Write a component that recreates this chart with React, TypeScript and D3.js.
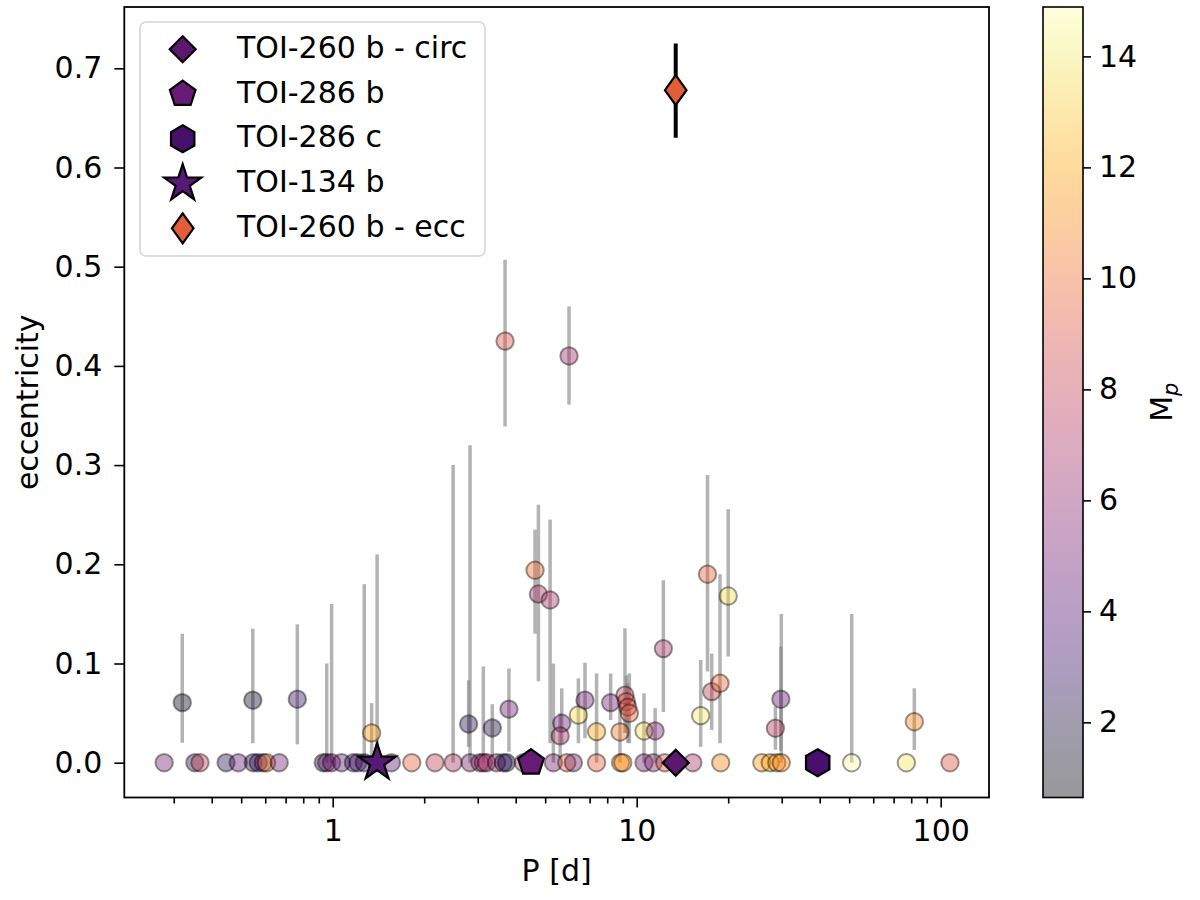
import { useEffect, useRef } from "react"
import * as d3 from "d3"

// Known planets: orbital period [d], eccentricity, error bar ends, planet mass
const periods = [
  0.279, 0.352, 0.366, 0.446, 0.489, 0.548, 0.569, 0.591, 0.606, 0.667,
  0.931, 0.956, 0.992, 1.07, 1.17, 1.21, 1.27, 1.4, 1.56, 1.82,
  2.17, 2.49, 2.83, 3.05, 3.13, 3.21, 3.46, 3.64, 3.73, 4.24,
  5.32, 5.89, 6.19, 7.38, 8.85, 9.0, 10.57, 11.35, 12.37, 15.3,
  18.9, 25.8, 27.5, 28.9, 29.9, 50.97, 77.1, 107.3,
  0.32, 0.546, 0.765, 1.343, 2.8, 3.35, 3.8, 3.69, 5.99, 4.63,
  4.75, 5.19, 12.24, 17.1, 20.0, 17.65, 18.8, 16.24, 29.8, 28.6,
  81.9, 5.67, 5.6, 6.43, 6.76, 7.38, 8.21, 8.81, 9.15, 9.25,
  9.35, 9.46, 10.57, 11.5,
]
const eccs = [
  0, 0, 0, 0, 0, 0, 0, 0, 0, 0,
  0, 0, 0, 0, 0, 0, 0, 0, 0, 0,
  0, 0, 0, 0, 0, 0, 0, 0, 0, 0,
  0, 0, 0, 0, 0, 0, 0, 0, 0, 0,
  0, 0, 0, 0, 0, 0, 0, 0,
  0.0605, 0.063, 0.064, 0.03, 0.039, 0.035, 0.054, 0.425, 0.41, 0.194,
  0.17, 0.164, 0.115, 0.19, 0.168, 0.0716, 0.08, 0.0474, 0.064, 0.0347,
  0.0413, 0.0397, 0.027, 0.048, 0.063, 0.0313, 0.0605, 0.031, 0.068, 0.0615,
  0.056, 0.0498, 0.032, 0.032,
]
const eccLow = [
  0, 0, 0, 0, 0, 0, 0, 0, 0, 0,
  0, 0, 0, 0, 0, 0, 0, 0, 0, 0,
  0, 0, 0, 0, 0, 0, 0, 0, 0, 0,
  0, 0, 0, 0, 0, 0, 0, 0, 0, 0,
  0, 0, 0, 0, 0, 0, 0, 0,
  0.02, 0.0196, 0.0185, 0, 0.016, 0.006, 0.011, 0.339, 0.361, 0.13,
  0.082, 0.0196, 0.051, 0.092, 0.107, 0.033, 0.0196, 0.016, 0.012, 0.013,
  0.0128, 0.0196, 0.005, 0.0196, 0.0246, 0, 0.043, 0, 0.03, 0.03,
  0.02, 0.0196, 0, 0,
]
const eccHigh = [
  0, 0, 0, 0, 0, 0, 0, 0, 0, 0,
  0, 0.1, 0.16, 0, 0, 0, 0.18, 0.21, 0, 0,
  0, 0.3, 0.32, 0, 0.097, 0, 0, 0, 0, 0,
  0.1, 0, 0, 0, 0, 0, 0, 0, 0, 0,
  0, 0, 0, 0, 0.15, 0.15, 0, 0,
  0.13, 0.135, 0.1395, 0.06, 0.083, 0.059, 0.095, 0.507, 0.46, 0.235,
  0.26, 0.245, 0.184, 0.29, 0.2555, 0.11, 0.19, 0.1035, 0.117, 0.0565,
  0.075, 0.075, 0.05, 0.085, 0.1008, 0.09, 0.09, 0.06, 0.1355, 0.088,
  0.08, 0.09, 0.07, 0.055,
]
const masses = [
  5, 2.5, 8, 2.5, 4.5, 2, 3.5, 4, 11, 5,
  2, 5, 5, 4.5, 2.5, 4, 3, 4.5, 4.5, 9.5,
  8, 7, 5, 6.5, 6.5, 7, 6, 3, 2, 7.5,
  5, 9.5, 5, 9.5, 11.5, 11, 5, 6, 9, 7,
  11, 11.5, 12, 11, 11, 14.8, 13.8, 9,
  1, 1.5, 3, 11.5, 2.5, 2, 5, 9, 6.5, 10,
  7, 7, 7, 9.5, 13.5, 8, 10, 14, 4.5, 7.5,
  11, 5, 7, 13.5, 5, 12, 5, 10.5, 8, 9,
  8.5, 9.5, 13.5, 5.5,
]

// Highlighted TOI planets
const toiNames = ["TOI-260 b - circ", "TOI-286 b", "TOI-286 c", "TOI-134 b", "TOI-260 b - ecc"]
const toiPeriods = [13.44, 4.49, 39.4, 1.4, 13.44]
const toiEccs = [0, 0, 0, 0, 0.678]
const toiLow = [0, 0, 0, 0, 0.63]
const toiHigh = [0, 0, 0, 0, 0.725]
const toiColors = ["#5c176f", "#661c77", "#46106b", "#561a76", "#e35d37"]
const toiShapes = ["D", "p", "h", "*", "d"]

const yTicks = [0, 0.1, 0.2, 0.3, 0.4, 0.5, 0.6, 0.7]
const xMajor = [1, 10, 100]
const xMinor = [0.3, 0.4, 0.5, 0.6, 0.7, 0.8, 0.9, 2, 3, 4, 5, 6, 7, 8, 9, 20, 30, 40, 50, 60, 70, 80, 90]
const massTicks = [2, 4, 6, 8, 10, 12, 14]

const FONT = '"DejaVu Sans", "Liberation Sans", sans-serif'
const plot = { left: 124.3, right: 989, top: 7, bottom: 797.5 }
const cbar = { left: 1043, right: 1083 }

function polygon(pts: [number, number][]) {
  return (d3.line()(pts) || "") + "Z"
}

function markerPath(shape: string) {
  if (shape === "D") return polygon([[0, -13], [13, 0], [0, 13], [-13, 0]])
  if (shape === "d") return polygon([[0, -15], [10.8, 0], [0, 15], [-10.8, 0]])
  if (shape === "p" || shape === "h") {
    const n = shape === "p" ? 5 : 6
    const r = 13.5
    return polygon(
      d3.range(n).map((k) => {
        const a = -Math.PI / 2 + (k * 2 * Math.PI) / n
        return [r * Math.cos(a), r * Math.sin(a)] as [number, number]
      })
    )
  }
  const R = 19.5
  const ri = R * 0.382
  return polygon(
    d3.range(10).map((k) => {
      const a = -Math.PI / 2 + (k * Math.PI) / 5
      const rr = k % 2 === 0 ? R : ri
      return [rr * Math.cos(a), rr * Math.sin(a)] as [number, number]
    })
  )
}

export default function App() {
  const svgRef = useRef<SVGSVGElement>(null)

  useEffect(() => {
    if (!svgRef.current) return
    const svg = d3.select(svgRef.current)
    svg.selectAll("*").remove()

    const x = d3.scaleLog().domain([0.2063, 144.2]).range([plot.left, plot.right])
    const y = d3.scaleLinear().domain([-0.0351, 0.7618]).range([plot.bottom, plot.top])
    const massNorm = d3.scaleLinear().domain([0.646, 14.89]).range([0, 1]).clamp(true)
    const color = (m: number) => d3.interpolateInferno(massNorm(m))

    const defs = svg.append("defs")
    defs
      .append("clipPath")
      .attr("id", "plot-clip")
      .append("rect")
      .attr("x", plot.left)
      .attr("y", plot.top)
      .attr("width", plot.right - plot.left)
      .attr("height", plot.bottom - plot.top)

    const grad = defs
      .append("linearGradient")
      .attr("id", "mass-grad")
      .attr("x1", 0)
      .attr("y1", 1)
      .attr("x2", 0)
      .attr("y2", 0)
    d3.range(0, 1.0001, 0.05).forEach((t) => {
      grad
        .append("stop")
        .attr("offset", t)
        .attr("stop-color", d3.interpolateInferno(t))
        .attr("stop-opacity", 0.4)
    })

    const g = svg.append("g").attr("clip-path", "url(#plot-clip)")
    const idx = d3.range(periods.length)

    // Error bars
    g.selectAll(".err")
      .data(idx.filter((i) => eccHigh[i] > eccLow[i]))
      .join("line")
      .attr("x1", (i) => x(periods[i]))
      .attr("x2", (i) => x(periods[i]))
      .attr("y1", (i) => y(eccLow[i]))
      .attr("y2", (i) => y(eccHigh[i]))
      .attr("stroke", "#808080")
      .attr("stroke-opacity", 0.6)
      .attr("stroke-width", 3.5)

    // Points coloured by mass
    g.selectAll(".pt")
      .data(idx)
      .join("circle")
      .attr("cx", (i) => x(periods[i]))
      .attr("cy", (i) => y(eccs[i]))
      .attr("r", 8.7)
      .attr("fill", (i) => color(masses[i]))
      .attr("fill-opacity", 0.4)
      .attr("stroke", "#000")
      .attr("stroke-opacity", 0.4)
      .attr("stroke-width", 2)

    // TOI planets
    const toiIdx = d3.range(toiNames.length)
    g.selectAll(".toi-err")
      .data(toiIdx.filter((i) => toiHigh[i] > toiLow[i]))
      .join("line")
      .attr("x1", (i) => x(toiPeriods[i]))
      .attr("x2", (i) => x(toiPeriods[i]))
      .attr("y1", (i) => y(toiLow[i]))
      .attr("y2", (i) => y(toiHigh[i]))
      .attr("stroke", "#000")
      .attr("stroke-width", 4)

    g.selectAll(".toi")
      .data(toiIdx)
      .join("path")
      .attr("transform", (i) => `translate(${x(toiPeriods[i])},${y(toiEccs[i])})`)
      .attr("d", (i) => markerPath(toiShapes[i]))
      .attr("fill", (i) => toiColors[i])
      .attr("stroke", "#000")
      .attr("stroke-width", 2.2)
      .attr("stroke-linejoin", "miter")

    // Frame
    svg
      .append("rect")
      .attr("x", plot.left)
      .attr("y", plot.top)
      .attr("width", plot.right - plot.left)
      .attr("height", plot.bottom - plot.top)
      .attr("fill", "none")
      .attr("stroke", "#000")
      .attr("stroke-width", 1.8)

    const styleAxis = (sel: any) => {
      sel.select(".domain").remove()
      sel.selectAll(".tick line").attr("stroke", "#000").attr("stroke-width", 1.6)
      sel.selectAll("text").attr("fill", "#000").attr("font-size", 30).attr("font-family", FONT)
    }

    // X axis (log)
    svg
      .append("g")
      .attr("transform", `translate(0,${plot.bottom})`)
      .call(d3.axisBottom(x).tickValues(xMinor).tickSize(6).tickFormat(() => ""))
      .call(styleAxis)
    svg
      .append("g")
      .attr("transform", `translate(0,${plot.bottom})`)
      .call(d3.axisBottom(x).tickValues(xMajor).tickSize(10).tickPadding(12).tickFormat(d3.format("d")))
      .call(styleAxis)

    // Y axis
    svg
      .append("g")
      .attr("transform", `translate(${plot.left},0)`)
      .call(d3.axisLeft(y).tickValues(yTicks).tickSize(10).tickPadding(12).tickFormat(d3.format(".1f")))
      .call(styleAxis)

    svg
      .append("text")
      .attr("x", (plot.left + plot.right) / 2)
      .attr("y", 881)
      .attr("text-anchor", "middle")
      .attr("font-size", 30)
      .attr("font-family", FONT)
      .text("P [d]")

    svg
      .append("text")
      .attr("transform", `translate(38,${(plot.top + plot.bottom) / 2}) rotate(-90)`)
      .attr("text-anchor", "middle")
      .attr("font-size", 30)
      .attr("font-family", FONT)
      .text("eccentricity")

    // Legend
    const leg = svg.append("g")
    leg
      .append("rect")
      .attr("x", 140)
      .attr("y", 22)
      .attr("width", 345)
      .attr("height", 234)
      .attr("rx", 6)
      .attr("fill", "#fff")
      .attr("fill-opacity", 0.8)
      .attr("stroke", "#d4d4d4")
      .attr("stroke-width", 1.5)
    const rowY = (i: number) => 49.3 + i * 44.75
    leg
      .selectAll(".leg-marker")
      .data(toiIdx)
      .join("path")
      .attr("transform", (i) => `translate(182.7,${rowY(i)})`)
      .attr("d", (i) => markerPath(toiShapes[i]))
      .attr("fill", (i) => toiColors[i])
      .attr("stroke", "#000")
      .attr("stroke-width", 2.2)
    leg
      .selectAll(".leg-text")
      .data(toiIdx)
      .join("text")
      .attr("x", 237)
      .attr("y", (i) => rowY(i) + 8.5)
      .attr("font-size", 30)
      .attr("font-family", FONT)
      .text((i) => toiNames[i])

    // Colorbar
    const cy = d3.scaleLinear().domain([0.646, 14.89]).range([plot.bottom, plot.top])
    svg
      .append("rect")
      .attr("x", cbar.left)
      .attr("y", plot.top)
      .attr("width", cbar.right - cbar.left)
      .attr("height", plot.bottom - plot.top)
      .attr("fill", "url(#mass-grad)")
      .attr("stroke", "#000")
      .attr("stroke-width", 1.6)
    svg
      .append("g")
      .attr("transform", `translate(${cbar.right},0)`)
      .call(d3.axisRight(cy).tickValues(massTicks).tickSize(8).tickPadding(8).tickFormat(d3.format("d")))
      .call(styleAxis)

    const lab = svg
      .append("text")
      .attr("transform", `translate(1172,${(plot.top + plot.bottom) / 2}) rotate(-90)`)
      .attr("text-anchor", "middle")
      .attr("font-size", 30)
      .attr("font-family", FONT)
    lab.append("tspan").text("M")
    lab
      .append("tspan")
      .attr("font-size", 21)
      .attr("font-style", "italic")
      .attr("dy", 6)
      .text("p")
  }, [])

  return (
    <svg
      ref={svgRef}
      width={1200}
      height={900}
      style={{ position: "absolute", left: 0, top: 0, background: "#fff" }}
    />
  )
}
